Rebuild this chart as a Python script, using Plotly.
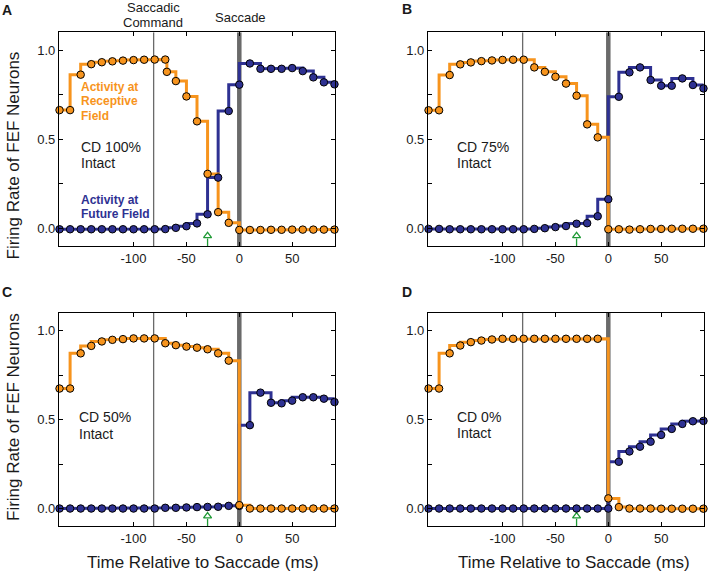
import plotly.graph_objects as go

W, H = 709, 574

# ---------------- data ----------------
time_ms = [-170, -160, -150, -140, -130, -120, -110, -100, -90, -80, -70, -60, -50,
           -40, -30, -20, -10, 0, 10, 20, 30, 40, 50, 60, 70, 80, 90]
# panel A receptive-field series has an extra sample just after -70 ms
time_ms_a_rf = [-170, -160, -150, -140, -130, -120, -110, -100, -90, -80, -70, -68.5, -60,
                -50, -40, -30, -20, -10, 0, 10, 20, 30, 40, 50, 60, 70, 80, 90]

# Activity at Receptive Field (orange)
rf_a = [0.663, 0.663, 0.862, 0.921, 0.932, 0.937, 0.941, 0.944, 0.946, 0.947, 0.947, 0.878,
        0.826, 0.740, 0.600, 0.305, 0.090, 0.030, -0.010, -0.010, -0.010, -0.009, -0.009,
        -0.008, -0.008, -0.008, -0.008, -0.008]
rf_b = [0.662, 0.662, 0.860, 0.920, 0.931, 0.938, 0.942, 0.945, 0.946, 0.946, 0.903, 0.878,
        0.850, 0.812, 0.744, 0.583, 0.510, -0.006, -0.006, -0.008, -0.006, -0.004, -0.004,
        -0.003, -0.003, -0.003, -0.003]
rf_c = [0.675, 0.675, 0.873, 0.915, 0.940, 0.949, 0.953, 0.957, 0.957, 0.957, 0.930, 0.919,
        0.911, 0.905, 0.896, 0.873, 0.832, 0.019, 0.000, 0.000, 0.000, 0.000, 0.000, 0.000,
        0.000, 0.000, 0.000]
rf_d = [0.675, 0.675, 0.873, 0.917, 0.936, 0.945, 0.951, 0.955, 0.955, 0.955, 0.955, 0.955,
        0.955, 0.955, 0.955, 0.955, 0.955, 0.057, 0.008, 0.000, 0.000, 0.000, -0.001, -0.001,
        -0.001, -0.001, -0.001]

# Activity at Future Field (blue)
ff_a = [-0.006, -0.006, -0.006, -0.006, -0.006, -0.006, -0.006, -0.006, -0.006, -0.006,
        -0.005, 0.002, 0.011, 0.027, 0.078, 0.284, 0.658, 0.806, 0.925, 0.895, 0.895, 0.895,
        0.899, 0.882, 0.847, 0.819, 0.808]
ff_b = [-0.004, -0.004, -0.006, -0.006, -0.006, -0.006, -0.006, -0.006, -0.006, -0.006,
        -0.004, 0.000, 0.006, 0.012, 0.025, 0.028, 0.067, 0.163, 0.738, 0.875, 0.903, 0.832,
        0.800, 0.800, 0.841, 0.804, 0.785]
ff_c = [0.000, 0.000, 0.000, 0.000, 0.000, 0.000, 0.000, 0.000, 0.000, 0.000, 0.004, 0.004,
        0.006, 0.008, 0.009, 0.010, 0.015, 0.015, 0.469, 0.652, 0.595, 0.592, 0.607, 0.626,
        0.626, 0.618, 0.599]
ff_d = [0.000, 0.000, 0.000, 0.000, 0.000, 0.000, 0.000, 0.000, 0.000, 0.000, 0.000, 0.000,
        0.000, 0.000, 0.000, 0.000, 0.000, 0.000, 0.263, 0.321, 0.348, 0.376, 0.414, 0.448,
        0.476, 0.491, 0.493]

panel_letters = ["A", "B", "C", "D"]
cd_labels = ["CD 100%", "CD 75%", "CD 50%", "CD 0%"]
rf_label_lines = ["Activity at", "Receptive", "Field"]
ff_label_lines = ["Activity at", "Future Field"]
command_time = -81
saccade_time = 0
arrow_time = -30

x_tick_vals = [-100, -50, 0, 50]
x_tick_text = ["-100", "-50", "0", "50"]
y_tick_vals = [0, 0.25, 0.5, 0.75, 1.0]
y_tick_text = ["0.0", "", "0.5", "", "1.0"]

ORANGE = "#F7941D"
BLUE = "#2E3192"
GREEN = "#1F9A35"
GREY = "#6A6A6A"
TXT = "#1a1a1a"
FONT = "Liberation Sans, Arial, Helvetica, sans-serif"

# pixel boxes of the four plot areas: (left, right, top, bottom)
boxes = [(59, 335, 32.3, 246), (428, 704, 32.3, 246),
         (59, 335, 313, 526.3), (428, 704, 313, 526.3)]

series = [(time_ms_a_rf, rf_a, time_ms, ff_a),
          (time_ms, rf_b, time_ms, ff_b),
          (time_ms, rf_c, time_ms, ff_c),
          (time_ms, rf_d, time_ms, ff_d)]


def step_upper(t, v):
    xs, ys = [], []
    for k in range(len(t) - 1):
        lvl = max(v[k], v[k + 1])
        xs += [t[k], t[k + 1]]
        ys += [lvl, lvl]
    return xs, ys


def px(x):
    return x / W


def py(y):
    return 1 - y / H


fig = go.Figure()
layout = dict(
    width=W, height=H,
    margin=dict(l=0, r=0, t=0, b=0),
    paper_bgcolor="white", plot_bgcolor="white",
    showlegend=False,
    font=dict(family=FONT, color=TXT, size=13),
    shapes=[], annotations=[],
)

for i, (box, (t_rf, rf, t_ff, ff)) in enumerate(zip(boxes, series)):
    n = i + 1
    xa = "x" if n == 1 else f"x{n}"
    ya = "y" if n == 1 else f"y{n}"
    l, r, t, b = box
    layout[f"xaxis{'' if n == 1 else n}"] = dict(
        domain=[px(l), px(r)], anchor=ya, range=[-170.5, 90.5],
        showgrid=False, zeroline=False, showline=True, mirror="ticks",
        linecolor="black", linewidth=1.3, ticks="inside", ticklen=4,
        tickcolor="black", tickwidth=1, tickvals=x_tick_vals, ticktext=x_tick_text,
        tickfont=dict(size=13, color=TXT, family=FONT),
    )
    layout[f"yaxis{'' if n == 1 else n}"] = dict(
        domain=[py(b), py(t)], anchor=xa, range=[-0.1, 1.1],
        showgrid=False, zeroline=False, showline=True, mirror="ticks",
        linecolor="black", linewidth=1.3, ticks="inside", ticklen=4,
        tickcolor="black", tickwidth=1, tickvals=y_tick_vals, ticktext=y_tick_text,
        tickfont=dict(size=13, color=TXT, family=FONT),
    )
    # reference lines
    for tx, w in [(command_time, 1.3), (saccade_time, 4.5)]:
        fig.add_trace(go.Scatter(x=[tx, tx], y=[-0.1, 1.1], mode="lines",
                                 line=dict(color=GREY, width=w), xaxis=xa, yaxis=ya,
                                 hoverinfo="skip"))
    # green arrow
    fig.add_trace(go.Scatter(x=[arrow_time, arrow_time], y=[-0.1, -0.058], mode="lines",
                             line=dict(color=GREEN, width=1.3), xaxis=xa, yaxis=ya,
                             hoverinfo="skip"))
    fig.add_trace(go.Scatter(x=[arrow_time], y=[-0.043], mode="markers",
                             marker=dict(symbol="triangle-up-open", size=7, color=GREEN,
                                         line=dict(width=1.3, color=GREEN)),
                             xaxis=xa, yaxis=ya, hoverinfo="skip"))
    # step lines
    bx, by = step_upper(t_ff, ff)
    fig.add_trace(go.Scatter(x=bx, y=by, mode="lines", line=dict(color=BLUE, width=3),
                             xaxis=xa, yaxis=ya, cliponaxis=False))
    ox, oy = step_upper(t_rf, rf)
    fig.add_trace(go.Scatter(x=ox, y=oy, mode="lines", line=dict(color=ORANGE, width=3),
                             xaxis=xa, yaxis=ya, cliponaxis=False))
    # markers
    fig.add_trace(go.Scatter(x=t_ff, y=ff, mode="markers",
                             marker=dict(size=7.5, color=BLUE, line=dict(color="black", width=1)),
                             xaxis=xa, yaxis=ya, cliponaxis=False))
    fig.add_trace(go.Scatter(x=t_rf, y=rf, mode="markers",
                             marker=dict(size=7.5, color=ORANGE, line=dict(color="black", width=1)),
                             xaxis=xa, yaxis=ya, cliponaxis=False))

ann = layout["annotations"]


def text(x, y, s, size=13, color=TXT, bold=False, xanchor="left", angle=0):
    ann.append(dict(x=px(x), y=py(y), xref="paper", yref="paper",
                    text=(f"<b>{s}</b>" if bold else s),
                    showarrow=False, xanchor=xanchor, yanchor="middle", textangle=angle,
                    font=dict(size=size, color=color, family=FONT)))


# panel letters
for letter, (lx, ly) in zip(panel_letters, [(7, 10), (407, 9), (7, 292), (407, 292)]):
    text(lx, ly, letter, size=14, bold=True, xanchor="center")

# top labels
text(153.3, 7, "Saccadic", xanchor="center")
text(153.3, 22.5, "Command", xanchor="center")
text(240.5, 17.7, "Saccade", xanchor="center")

# series labels in panel A
for s, yy in zip(rf_label_lines, [87, 101.3, 115.6]):
    text(79, yy, s, size=12, color=ORANGE, bold=True)
for s, yy in zip(ff_label_lines, [199.8, 214.1]):
    text(79, yy, s, size=12, color=BLUE, bold=True)

# CD labels
for lab, (cx, cy) in zip(cd_labels, [(79, 146.7), (454.7, 146.7), (76.7, 417), (454.7, 416.5)]):
    text(cx, cy, lab, size=14)
    text(cx, cy + 16.5, "Intact", size=14)

# axis titles
text(13, 155.5, "Firing Rate of FEF Neurons", size=17, xanchor="center", angle=-90)
text(13, 417, "Firing Rate of FEF Neurons", size=17, xanchor="center", angle=-90)
text(203, 562, "Time Relative to Saccade (ms)", size=17, xanchor="center")
text(573.5, 562.5, "Time Relative to Saccade (ms)", size=17, xanchor="center")

fig.update_layout(**layout)
fig.write_html("out.html", config={"displayModeBar": False},
               post_script="document.body.style.margin='0';document.body.style.padding='0';")
